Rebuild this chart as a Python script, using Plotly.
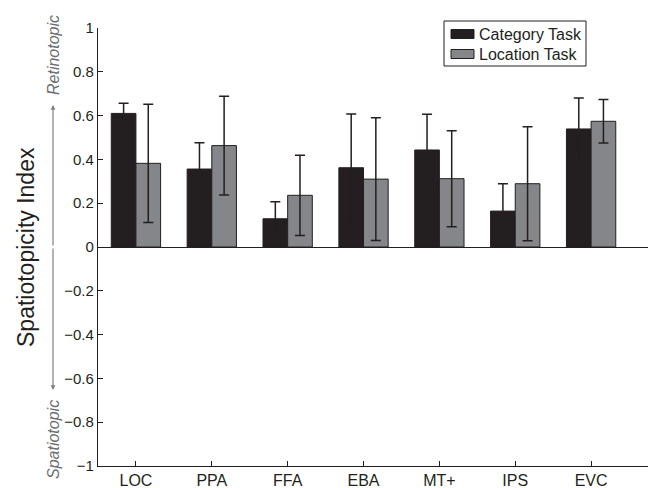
import plotly.graph_objects as go

regions = ["LOC", "PPA", "FFA", "EBA", "MT+", "IPS", "EVC"]
category_task = [0.61, 0.356, 0.129, 0.362, 0.443, 0.164, 0.539]
category_err = [0.046, 0.12, 0.078, 0.245, 0.163, 0.125, 0.141]
location_task = [0.382, 0.463, 0.236, 0.31, 0.312, 0.289, 0.574]
location_err = [0.27, 0.225, 0.183, 0.28, 0.219, 0.26, 0.099]
series_names = ["Category Task", "Location Task"]
series_colors = ["#231f20", "#858689"]
y_ticks = [-1, -0.8, -0.6, -0.4, -0.2, 0, 0.2, 0.4, 0.6, 0.8, 1]
y_tick_text = ["\u22121", "\u22120.8", "\u22120.6", "\u22120.4", "\u22120.2", "0", "0.2", "0.4", "0.6", "0.8", "1"]

FONT = "Liberation Sans, Arial, Helvetica, sans-serif"
INK = "#231f20"
GREY_TXT = "#6d6e71"

# plot area in pixels (for placing legend / annotations in paper coords)
L, R, T, B = 98, 648, 28, 466
def px(x):
    return (x - L) / (R - L)
def py(y):
    return (B - y) / (B - T)

fig = go.Figure()
for name, vals, errs, col in zip(series_names, [category_task, location_task],
                                 [category_err, location_err], series_colors):
    fig.add_trace(go.Bar(
        x=regions, y=vals, name=name,
        marker=dict(color=col, line=dict(color=INK, width=1)),
        error_y=dict(type="data", array=errs, symmetric=True,
                     color=INK, thickness=1.5, width=5),
    ))

fig.update_layout(
    width=648, height=488,
    margin=dict(l=L, r=648 - R, t=T, b=488 - B, autoexpand=False),
    plot_bgcolor="white", paper_bgcolor="white",
    barmode="group", bargap=0.35, bargroupgap=0,
    font=dict(family=FONT, color=INK, size=15),
    showlegend=False,
)
fig.update_xaxes(
    type="category", range=[-0.5, 6.75],
    showline=True, linecolor=INK, linewidth=1.2,
    ticks="inside", ticklen=5, tickcolor=INK,
    showgrid=False, tickfont=dict(size=16),
)
fig.update_yaxes(
    range=[-1, 1], tickvals=y_ticks, ticktext=y_tick_text,
    showline=True, linecolor=INK, linewidth=1.2,
    ticks="inside", ticklen=5, tickcolor=INK,
    showgrid=False, zeroline=True, zerolinecolor=INK, zerolinewidth=1.2,
    tickfont=dict(size=15),
)

# legend box drawn manually to match the reference's compact layout
fig.add_shape(type="rect", xref="paper", yref="paper",
              x0=px(444), x1=px(586), y0=py(66), y1=py(21),
              line=dict(color=INK, width=1), fillcolor="white", layer="above")
for i, (name, col) in enumerate(zip(series_names, series_colors)):
    yc = 34 + i * 20
    fig.add_shape(type="rect", xref="paper", yref="paper",
                  x0=px(451), x1=px(474), y0=py(yc + 4.5), y1=py(yc - 4.5),
                  line=dict(color=INK, width=1), fillcolor=col, layer="above")
    fig.add_annotation(xref="paper", yref="paper", x=px(477), y=py(yc),
                       text=name, showarrow=False, xanchor="left", yanchor="middle",
                       font=dict(size=16, family=FONT, color=INK))

# y title
fig.add_annotation(xref="paper", yref="paper", x=px(26), y=0.5,
                   text="Spatiotopicity Index", textangle=-90, showarrow=False,
                   font=dict(size=23, family=FONT, color=INK),
                   xanchor="center", yanchor="middle")
# direction labels
fig.add_annotation(xref="paper", yref="paper", x=px(53), y=py(55),
                   text="<i>Retinotopic</i>", textangle=-90, showarrow=False,
                   font=dict(size=16, family=FONT, color=GREY_TXT),
                   xanchor="center", yanchor="middle")
fig.add_annotation(xref="paper", yref="paper", x=px(53), y=py(440),
                   text="<i>Spatiotopic</i>", textangle=-90, showarrow=False,
                   font=dict(size=16, family=FONT, color=GREY_TXT),
                   xanchor="center", yanchor="middle")
# arrows
fig.add_annotation(xref="paper", yref="paper", x=px(53), y=py(105),
                   ax=0, ay=142, axref="pixel", ayref="pixel", text="",
                   showarrow=True, arrowhead=2, arrowsize=0.8, arrowwidth=1.2,
                   arrowcolor="#808080")
fig.add_annotation(xref="paper", yref="paper", x=px(53), y=py(390),
                   ax=0, ay=-143, axref="pixel", ayref="pixel", text="",
                   showarrow=True, arrowhead=2, arrowsize=0.8, arrowwidth=1.2,
                   arrowcolor="#808080")

fig.write_html("out.html", config={"displayModeBar": False},
               post_script="document.body.style.margin='0';document.body.style.overflow='hidden';")
